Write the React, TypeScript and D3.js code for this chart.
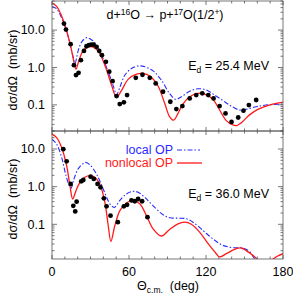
import React from "react";
import * as d3 from "d3";

const W = 293;
const H = 296;
const Left = 52;
const Right = 283;
const TopPanel = { top: 1, bottom: 131 };
const BotPanel = { top: 131, bottom: 259 };

// angles in deg, cross sections in mb/sr
const exp25: [number, number][] = [
  [9.3, 14.9], [10.9, 10.3], [14.5, 4.2], [17.1, 1.15], [18.7, 0.625], [20.7, 0.72],
  [22.5, 1.57], [24.9, 2.78], [26.9, 3.7], [28.8, 3.94], [30.6, 4.1], [32.4, 4.1],
  [34.7, 3.56], [36.8, 2.78], [38.9, 2.13], [42, 1.42], [44.6, 0.77], [47.2, 0.43],
  [50.3, 0.172], [52.8, 0.105], [56, 0.117], [58.5, 0.183], [65.3, 0.53], [70.5, 0.64],
  [76.2, 0.53], [80.8, 0.374], [86.5, 0.224], [92.2, 0.121], [96.9, 0.077], [101.6, 0.093],
  [107.3, 0.149], [112.4, 0.183], [117.1, 0.203], [121.8, 0.183], [125.9, 0.149],
  [130.6, 0.093], [135.2, 0.059], [139.9, 0.035], [145.1, 0.046], [149.2, 0.07],
  [153.4, 0.099], [159.1, 0.135]
];

const nonlocal25: [number, number][] = [
  [0, 53], [3.6, 43], [8.8, 18.3], [14, 4.4], [17.1, 1.42], [18.7, 0.9], [20.7, 1.42],
  [24.4, 2.9], [28.2, 3.56], [31.6, 3.56], [36, 2.73], [41.2, 1.15], [46.4, 0.34],
  [50.3, 0.158], [54.1, 0.24], [59.3, 0.48], [65.8, 0.66], [71, 0.69], [76.2, 0.59],
  [82.6, 0.32], [87.8, 0.11], [91.7, 0.048], [94.8, 0.039], [98.2, 0.059], [102, 0.105],
  [107.3, 0.165], [113.7, 0.203], [118.9, 0.195], [125.4, 0.14], [130.6, 0.073],
  [135.8, 0.038], [140.9, 0.029], [144, 0.028], [147.4, 0.033], [153.9, 0.054],
  [160.4, 0.076], [166.8, 0.093], [174.6, 0.11], [180, 0.119]
];

const local25: [number, number][] = [
  [0, 43], [3.6, 37], [8.8, 16.5], [12.7, 6.6], [16.1, 2.13], [17.9, 1.3], [20.5, 2.9],
  [23.1, 4.8], [26.9, 6.3], [29.5, 5.9], [33.4, 4.55], [38.6, 2.13], [43.8, 0.77],
  [48.2, 0.29], [50.3, 0.183], [52.8, 0.29], [56.7, 0.62], [61.9, 0.94], [67.1, 1.1],
  [72.3, 1.04], [78.8, 0.81], [85.2, 0.46], [91.7, 0.2], [96.4, 0.14], [100.8, 0.165],
  [107.3, 0.23], [113.7, 0.27], [120.2, 0.25], [126.7, 0.183], [133.2, 0.13],
  [139.6, 0.093], [146.1, 0.073], [151.3, 0.076], [159.1, 0.089], [166.8, 0.099],
  [180, 0.105]
];

const exp36: [number, number][] = [
  [8.8, 9.9], [11.4, 4.7], [14.5, 1.18], [16.6, 0.31], [18.1, 0.22], [19.2, 0.4],
  [22.8, 1.38], [24.4, 1.5], [30.1, 1.84], [32.6, 1.6], [35.5, 1.18], [37.8, 0.96],
  [40.4, 0.49], [42.5, 0.3], [45.6, 0.17], [51.3, 0.114], [56, 0.3], [58.5, 0.33],
  [61.9, 0.43], [64.5, 0.41], [67.1, 0.47], [70.2, 0.41], [74.4, 0.155]
];

const nonlocal36: [number, number][] = [
  [0, 24.7], [3.6, 20], [7.5, 11], [11.4, 3.6], [14, 1.06], [16.1, 0.47], [18.7, 0.78],
  [21.8, 1.3], [25.6, 1.77], [29.5, 1.95], [33.4, 1.77], [37.3, 1.18], [41.2, 0.385],
  [43.8, 0.093], [45.9, 0.035], [49, 0.093], [52.9, 0.23], [58, 0.37], [63.2, 0.43],
  [68.4, 0.35], [73.6, 0.17], [78.8, 0.076], [85.2, 0.049], [91.7, 0.073], [98.2, 0.103],
  [103.4, 0.114], [108.6, 0.1], [115, 0.062], [121.5, 0.031], [128, 0.0166],
  [130.6, 0.0136], [135.8, 0.0166], [142.2, 0.0216], [147.4, 0.0235], [151.3, 0.02],
  [156.5, 0.015], [160.4, 0.0115], [165, 0.008], [171.5, 0.0115], [175.9, 0.0144],
  [180, 0.0166]
];

const local36: [number, number][] = [
  [0, 18.2], [3.6, 13.4], [7.5, 6], [10.9, 1.95], [13.5, 1.06], [14.8, 0.9], [17.1, 1.6],
  [20.5, 3], [24.4, 4.1], [26.4, 4.4], [29.5, 3.8], [34.7, 2.16], [39.9, 0.87],
  [45.1, 0.35], [48.5, 0.28], [52.9, 0.43], [58, 0.64], [63.2, 0.75], [67.1, 0.71],
  [72.3, 0.52], [78.8, 0.31], [86.5, 0.18], [91.7, 0.149], [98.2, 0.146], [104.7, 0.14],
  [109.9, 0.114], [117.6, 0.069], [125.4, 0.041], [133.2, 0.0276], [140.9, 0.024],
  [148.7, 0.0235], [153.9, 0.019], [157, 0.0135], [159.1, 0.011], [163, 0.007]
];

const xTicks = d3.range(0, 181, 10);
const xLabels = [0, 60, 120, 180];
const yLabels = [0.1, 1, 10];

const RED = "#ff1a1a";
const BLUE = "#2a2aff";
const AXIS = "#555";
const FONT = "Liberation Sans, Arial, sans-serif";
const FS = 12.5;
const SUB = 8.5;

const x = d3.scaleLinear().domain([0, 180]).range([Left, Right]);

type Panel = {
  id: string;
  y: d3.ScaleLogarithmic<number, number>;
  top: number;
  bottom: number;
  exp: [number, number][];
  nonlocal: [number, number][];
  local: [number, number][];
};

const panels: Panel[] = [
  {
    id: "p25",
    y: d3.scaleLog().domain([0.02, 60]).range([TopPanel.bottom, TopPanel.top]),
    top: TopPanel.top,
    bottom: TopPanel.bottom,
    exp: exp25,
    nonlocal: nonlocal25,
    local: local25
  },
  {
    id: "p36",
    y: d3.scaleLog().domain([0.012, 30]).range([BotPanel.bottom, BotPanel.top]),
    top: BotPanel.top,
    bottom: BotPanel.bottom,
    exp: exp36,
    nonlocal: nonlocal36,
    local: local36
  }
];

const PanelView = ({ p }: { p: Panel }) => {
  const line = d3
    .line<[number, number]>()
    .x((d) => x(d[0]))
    .y((d) => p.y(d[1]))
    .curve(d3.curveCatmullRom.alpha(0.5));
  const yTicks = p.y.ticks();
  const isMajor = (v: number) => Math.abs(Math.log10(v) - Math.round(Math.log10(v))) < 1e-6;
  const midY = (p.top + p.bottom) / 2;
  return (
    <g>
      <clipPath id={"clip-" + p.id}>
        <rect x={Left} y={p.top} width={Right - Left} height={p.bottom - p.top} />
      </clipPath>
      <g clipPath={`url(#clip-${p.id})`}>
        <path d={line(p.local) || ""} fill="none" stroke={BLUE} strokeWidth={1.1} strokeDasharray="5,2,1.5,2" />
        <path d={line(p.nonlocal) || ""} fill="none" stroke={RED} strokeWidth={1.3} />
        {p.exp.map((d, i) => (
          <circle key={i} cx={x(d[0])} cy={p.y(d[1])} r={2.4} fill="#000" />
        ))}
      </g>
      {/* y ticks, both sides */}
      {yTicks.map((v, i) => {
        const len = isMajor(v) ? 5 : 2.5;
        const yy = p.y(v);
        return (
          <g key={i}>
            <line x1={Left} x2={Left + len} y1={yy} y2={yy} stroke={AXIS} strokeWidth={0.8} />
            <line x1={Right} x2={Right - len} y1={yy} y2={yy} stroke={AXIS} strokeWidth={0.8} />
          </g>
        );
      })}
      {/* x ticks top and bottom */}
      {xTicks.map((t) => {
        const len = t % 60 === 0 ? 4 : 2.5;
        return (
          <g key={t}>
            <line x1={x(t)} x2={x(t)} y1={p.bottom} y2={p.bottom - len} stroke={AXIS} strokeWidth={0.8} />
            <line x1={x(t)} x2={x(t)} y1={p.top} y2={p.top + len} stroke={AXIS} strokeWidth={0.8} />
          </g>
        );
      })}
      {yLabels.map((v) => (
        <text key={v} x={45} y={p.y(v)} dy="0.35em" textAnchor="end" fontSize={FS} fontFamily={FONT} fill="#000">
          {v.toFixed(1)}
        </text>
      ))}
      <rect x={Left} y={p.top} width={Right - Left} height={p.bottom - p.top} fill="none" stroke={AXIS} strokeWidth={0.8} />
      <text
        transform={`translate(17, ${midY + 4}) rotate(-90)`}
        textAnchor="middle"
        fontSize={FS}
        fontFamily={FONT}
        fill="#000"
      >
        {"dσ/dΩ\u00a0\u00a0(mb/sr)"}
      </text>
    </g>
  );
};

const App = () => {
  return (
    <svg width={W} height={H} style={{ position: "absolute", left: 0, top: 0, background: "#fff" }}>
      {panels.map((p) => (
        <PanelView key={p.id} p={p} />
      ))}
      {/* title */}
      <text x={165} y={19} textAnchor="middle" fontSize={FS} fontFamily={FONT}>
        d+<tspan dy={-4.5} fontSize={SUB}>16</tspan>
        <tspan dy={4.5}>{"O\u00a0→\u00a0p+"}</tspan>
        <tspan dy={-4.5} fontSize={SUB}>17</tspan>
        <tspan dy={4.5}>O(1/2</tspan>
        <tspan dy={-4.5} fontSize={SUB}>+</tspan>
        <tspan dy={4.5}>)</tspan>
      </text>
      <text x={269} y={70} textAnchor="end" fontSize={FS} fontFamily={FONT}>
        E<tspan dy={3} fontSize={SUB}>d</tspan>
        <tspan dy={-3}>{"\u00a0= 25.4 MeV"}</tspan>
      </text>
      <text x={269} y={198} textAnchor="end" fontSize={FS} fontFamily={FONT}>
        E<tspan dy={3} fontSize={SUB}>d</tspan>
        <tspan dy={-3}>{"\u00a0= 36.0 MeV"}</tspan>
      </text>
      {/* legend */}
      <text x={173} y={154} textAnchor="end" fontSize={FS} fontFamily={FONT} fill={BLUE}>
        local OP
      </text>
      <line x1={177} x2={200} y1={150} y2={150} stroke={BLUE} strokeWidth={1.1} strokeDasharray="5,2,1.5,2" />
      <text x={173} y={167} textAnchor="end" fontSize={FS} fontFamily={FONT} fill={RED}>
        nonlocal OP
      </text>
      <line x1={177} x2={202} y1={163} y2={163} stroke={RED} strokeWidth={1.3} />
      {/* x tick labels */}
      {xLabels.map((t) => (
        <text key={t} x={x(t)} y={276} textAnchor="middle" fontSize={FS} fontFamily={FONT}>
          {t}
        </text>
      ))}
      <text x={168} y={290} textAnchor="middle" fontSize={FS} fontFamily={FONT}>
        Θ<tspan dy={3} fontSize={SUB}>c.m.</tspan>
        <tspan dy={-3}>{"\u00a0\u00a0(deg)"}</tspan>
      </text>
    </svg>
  );
};

export default App;
